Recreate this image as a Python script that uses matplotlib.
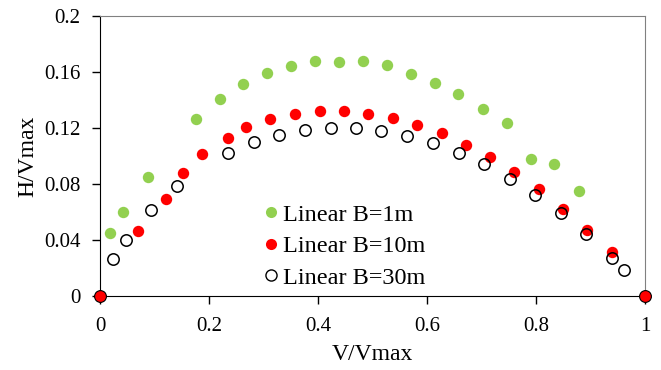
import matplotlib
matplotlib.use("Agg")
import matplotlib.pyplot as plt
from matplotlib.lines import Line2D

plt.rcParams["font.family"] = ["Liberation Serif", "DejaVu Serif"]

# Linear B=1m
v_b1 = [0.018, 0.043, 0.088, 0.176, 0.220, 0.263, 0.307, 0.351, 0.395, 0.439,
        0.483, 0.526, 0.570, 0.614, 0.657, 0.702, 0.746, 0.790, 0.833, 0.878]
h_b1 = [0.0448, 0.0602, 0.0848, 0.1264, 0.1405, 0.1512, 0.1593, 0.1645, 0.1676, 0.1674,
        0.1679, 0.1650, 0.1588, 0.1524, 0.1440, 0.1338, 0.1233, 0.0979, 0.0943, 0.0750]

# Linear B=10m
v_b10 = [0.069, 0.1205, 0.152, 0.188, 0.2355, 0.268, 0.3125, 0.358, 0.403, 0.448,
         0.492, 0.537, 0.582, 0.627, 0.671, 0.716, 0.760, 0.8055, 0.850, 0.894, 0.940]
h_b10 = [0.0464, 0.0693, 0.0876, 0.1017, 0.1126, 0.1205, 0.1267, 0.1302, 0.1319, 0.1319,
         0.1302, 0.1274, 0.1224, 0.1164, 0.1081, 0.0993, 0.0886, 0.0764, 0.0624, 0.0469, 0.0312]

# Linear B=30m
v_b30 = [0.023, 0.047, 0.0936, 0.141, 0.2355, 0.282, 0.328, 0.376, 0.423, 0.469,
         0.516, 0.564, 0.611, 0.658, 0.704, 0.752, 0.798, 0.845, 0.892, 0.939, 0.962]
h_b30 = [0.0264, 0.0400, 0.0614, 0.0786, 0.1019, 0.1098, 0.1150, 0.1186, 0.1202, 0.1200,
         0.1176, 0.1140, 0.1090, 0.1021, 0.0940, 0.0838, 0.0724, 0.0590, 0.0443, 0.0274, 0.0186]

# end points
v_end = [0.0, 1.0]
h_end = [0.0, 0.0]

green = "#92d050"

fig = plt.figure(figsize=(6.61, 3.70), dpi=100)
ax = fig.add_axes([0.1513, 0.2, 0.8245, 0.7568])

ax.plot(v_b1, h_b1, "o", color=green, ms=8.2, mec="none")
ax.plot(v_b10, h_b10, "o", color="red", ms=8.2, mec="none")
ax.plot(v_b30, h_b30, "o", mfc="none", mec="black", ms=8.2, mew=1.1)
ax.plot(v_end, h_end, "o", color="red", mec="black", mew=0.8, ms=8.5,
        clip_on=False, zorder=5)

ax.set_xlim(0, 1)
ax.set_ylim(0, 0.2)
ax.set_xticks([0, 0.2, 0.4, 0.6, 0.8, 1])
ax.set_xticklabels(["0", "0.2", "0.4", "0.6", "0.8", "1"])
ax.set_yticks([0, 0.04, 0.08, 0.12, 0.16, 0.2])
ax.set_yticklabels(["0", "0.04", "0.08", "0.12", "0.16", "0.2"])
ax.tick_params(direction="out", length=6, width=1, labelsize=15, pad=8)
ax.tick_params(axis="x", pad=9)

for s in ["top", "right"]:
    ax.spines[s].set_color("#808080")
for s in ["left", "bottom"]:
    ax.spines[s].set_color("black")

ax.set_xlabel("V/Vmax", fontsize=17, labelpad=6)
ax.set_ylabel("H/Vmax", fontsize=17, labelpad=4)

handles = [
    Line2D([], [], ls="none", marker="o", color=green, mec="none", ms=8),
    Line2D([], [], ls="none", marker="o", color="red", mec="none", ms=8),
    Line2D([], [], ls="none", marker="o", mfc="none", mec="black", ms=8),
]
ax.legend(handles, ["Linear B=1m", "Linear B=10m", "Linear B=30m"],
          loc="upper left", bbox_to_anchor=(0.2825, 0.365), frameon=False,
          fontsize=17.5, handlelength=0.6, handletextpad=0.2, labelspacing=0.4,
          borderaxespad=0)

fig.savefig("out.png", dpi=100)
